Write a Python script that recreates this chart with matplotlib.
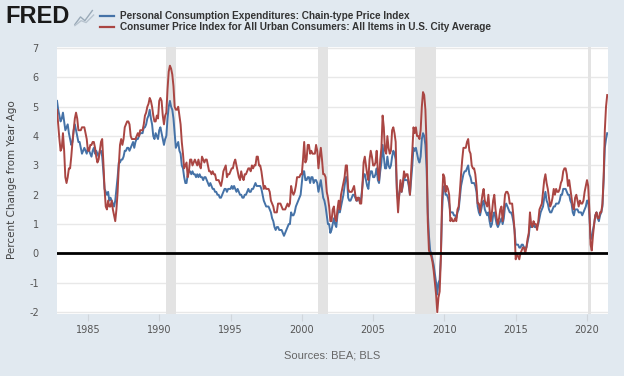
import numpy as np
import matplotlib.pyplot as plt
from matplotlib.lines import Line2D

plt.rcParams['axes.unicode_minus'] = False

# monthly, Nov 1982 .. Jun 2021, percent change from year ago
start_year, start_month = 1982, 11

cpi = [
    4.9, 4.4,
    3.9, 3.5, 3.6, 4.1, 3.5, 2.6, 2.4, 2.6, 2.9, 2.9, 3.3, 3.8,
    4.2, 4.6, 4.8, 4.6, 4.2, 4.2, 4.2, 4.3, 4.3, 4.3, 4.1, 3.9,
    3.5, 3.5, 3.7, 3.7, 3.8, 3.8, 3.6, 3.3, 3.1, 3.2, 3.5, 3.8,
    3.9, 3.1, 2.2, 1.6, 1.5, 1.8, 1.6, 1.6, 1.8, 1.5, 1.3, 1.1,
    1.5, 2.1, 3.0, 3.7, 3.9, 3.7, 3.9, 4.3, 4.4, 4.5, 4.5, 4.4,
    4.0, 3.9, 3.9, 3.9, 3.9, 4.0, 4.1, 4.0, 4.2, 4.2, 4.2, 4.4,
    4.7, 4.8, 5.0, 5.1, 5.3, 5.2, 5.0, 4.7, 4.5, 4.5, 4.7, 4.6,
    5.2, 5.3, 5.2, 4.7, 4.4, 4.7, 4.8, 5.6, 6.2, 6.4, 6.3, 6.1,
    5.7, 5.0, 4.9, 4.9, 5.0, 4.7, 4.4, 3.8, 3.4, 2.9, 3.0, 3.1,
    2.6, 2.8, 3.2, 3.2, 3.0, 3.1, 3.2, 3.1, 3.0, 3.2, 3.0, 2.9,
    3.3, 3.2, 3.1, 3.2, 3.2, 3.0, 2.8, 2.8, 2.7, 2.8, 2.7, 2.7,
    2.5, 2.5, 2.5, 2.4, 2.3, 2.5, 2.8, 2.9, 3.0, 2.6, 2.7, 2.7,
    2.8, 2.9, 2.9, 3.1, 3.2, 3.0, 2.8, 2.6, 2.5, 2.8, 2.6, 2.5,
    2.7, 2.7, 2.8, 2.9, 2.9, 2.8, 3.0, 2.9, 3.0, 3.0, 3.3, 3.3,
    3.0, 3.0, 2.8, 2.5, 2.2, 2.3, 2.2, 2.2, 2.2, 2.1, 1.8, 1.7,
    1.6, 1.4, 1.4, 1.4, 1.7, 1.7, 1.7, 1.6, 1.5, 1.5, 1.5, 1.6,
    1.7, 1.6, 1.7, 2.3, 2.1, 2.0, 2.1, 2.3, 2.6, 2.6, 2.6, 2.7,
    2.7, 3.2, 3.8, 3.1, 3.2, 3.7, 3.7, 3.4, 3.5, 3.4, 3.4, 3.4,
    3.7, 3.5, 2.9, 3.3, 3.6, 3.2, 2.7, 2.7, 2.6, 2.1, 1.9, 1.6,
    1.1, 1.1, 1.5, 1.6, 1.2, 1.1, 1.5, 1.8, 1.5, 2.0, 2.2, 2.4,
    2.6, 3.0, 3.0, 2.2, 2.1, 2.1, 2.1, 2.2, 2.3, 2.0, 1.8, 1.9,
    1.9, 1.7, 1.7, 2.3, 3.1, 3.3, 3.0, 2.7, 2.5, 3.2, 3.5, 3.3,
    3.0, 3.0, 3.1, 3.5, 2.8, 2.5, 3.2, 3.6, 4.7, 4.3, 3.5, 3.4,
    4.0, 3.6, 3.4, 3.5, 4.2, 4.3, 4.1, 3.8, 2.1, 1.4, 2.0, 2.5,
    2.1, 2.4, 2.8, 2.6, 2.7, 2.7, 2.4, 2.0, 2.8, 3.5, 4.3, 4.1,
    4.3, 4.0, 4.0, 3.9, 4.2, 5.0, 5.5, 5.4, 4.9, 3.7, 1.1, 0.1,
    0.0, -0.1, -0.3, -0.6, -1.0, -1.4, -2.0, -1.5, -1.3, -0.2, 1.8, 2.7,
    2.6, 2.1, 2.3, 2.2, 2.0, 1.1, 1.2, 1.1, 1.1, 1.2, 1.1, 1.5,
    1.6, 2.1, 2.7, 3.2, 3.6, 3.6, 3.6, 3.8, 3.9, 3.5, 3.4, 3.0,
    2.9, 2.9, 2.7, 2.3, 1.7, 1.7, 1.4, 1.7, 2.0, 2.2, 1.8, 1.7,
    1.6, 2.0, 1.5, 1.1, 1.4, 1.8, 2.0, 1.5, 1.2, 1.0, 1.2, 1.5,
    1.6, 1.1, 1.5, 2.0, 2.1, 2.1, 2.0, 1.7, 1.7, 1.7, 1.3, 0.8,
    -0.2, 0.0, -0.1, -0.2, 0.0, 0.1, 0.2, 0.2, 0.0, 0.2, 0.5, 0.7,
    1.4, 1.0, 0.9, 1.1, 1.0, 1.0, 0.8, 1.1, 1.5, 1.6, 1.7, 2.1,
    2.5, 2.7, 2.4, 2.2, 1.9, 1.6, 1.7, 1.9, 2.2, 2.0, 2.2, 2.1,
    2.1, 2.2, 2.4, 2.5, 2.8, 2.9, 2.9, 2.7, 2.3, 2.5, 2.2, 1.9,
    1.6, 1.5, 1.9, 2.0, 1.8, 1.6, 1.8, 1.7, 1.7, 1.8, 2.1, 2.3,
    2.5, 2.3, 1.5, 0.3, 0.1, 0.6, 1.0, 1.3, 1.4, 1.2, 1.2, 1.4,
    1.4, 1.7, 2.6, 4.2, 5.0, 5.4,
]

pce = [
    5.2, 4.9,
    4.7, 4.5, 4.6, 4.8, 4.5, 4.2, 4.3, 4.4, 4.1, 3.9, 3.7, 3.8,
    4.2, 4.4, 4.2, 4.0, 3.8, 3.8, 3.6, 3.4, 3.5, 3.6, 3.5, 3.4,
    3.6, 3.5, 3.4, 3.3, 3.5, 3.6, 3.4, 3.5, 3.4, 3.3, 3.5, 3.5,
    3.3, 2.8, 2.2, 2.1, 2.0, 2.1, 1.8, 1.9, 1.8, 1.7, 1.6, 1.8,
    2.2, 2.6, 3.1, 3.1, 3.2, 3.2, 3.3, 3.5, 3.5, 3.6, 3.6, 3.5,
    3.6, 3.7, 3.8, 3.6, 3.8, 3.9, 3.9, 4.0, 4.1, 4.1, 4.1, 4.3,
    4.3, 4.4, 4.6, 4.7, 4.9, 4.6, 4.4, 4.0, 3.9, 4.1, 4.0, 3.9,
    4.2, 4.3, 4.1, 3.9, 3.7, 3.9, 4.0, 4.6, 5.0, 5.2, 5.0, 4.9,
    4.6, 4.1, 3.6, 3.7, 3.8, 3.5, 3.4, 3.0, 2.9, 2.6, 2.4, 2.4,
    2.7, 2.8, 2.8, 2.7, 2.8, 2.7, 2.7, 2.6, 2.7, 2.6, 2.7, 2.6,
    2.6, 2.5, 2.6, 2.6, 2.5, 2.4, 2.3, 2.4, 2.3, 2.2, 2.2, 2.1,
    2.1, 2.0, 2.0, 1.9, 1.9, 2.0, 2.1, 2.2, 2.2, 2.1, 2.2, 2.2,
    2.2, 2.3, 2.2, 2.3, 2.2, 2.1, 2.2, 2.1, 2.0, 2.0, 1.9, 1.9,
    2.0, 2.0, 2.1, 2.2, 2.1, 2.1, 2.2, 2.2, 2.3, 2.4, 2.3, 2.3,
    2.3, 2.3, 2.2, 2.0, 1.8, 1.7, 1.6, 1.6, 1.6, 1.5, 1.4, 1.2,
    1.1, 0.9, 0.8, 0.9, 0.9, 0.8, 0.8, 0.8, 0.7, 0.6, 0.7, 0.8,
    0.9, 1.0, 1.0, 1.4, 1.3, 1.3, 1.4, 1.6, 1.7, 1.8, 1.9, 2.0,
    2.4, 2.8, 2.8, 2.5, 2.5, 2.6, 2.6, 2.4, 2.6, 2.6, 2.4, 2.5,
    2.5, 2.4, 2.1, 2.3, 2.5, 2.2, 1.9, 1.8, 1.6, 1.3, 1.0, 1.0,
    0.7, 0.8, 1.0, 1.2, 1.0, 0.9, 1.3, 1.5, 1.4, 1.6, 1.8, 2.0,
    2.3, 2.6, 2.6, 1.9, 1.8, 1.8, 1.9, 2.0, 2.0, 1.9, 1.8, 1.8,
    1.9, 1.8, 1.9, 2.3, 2.7, 2.7, 2.5, 2.3, 2.2, 2.6, 2.8, 2.8,
    2.6, 2.6, 2.7, 2.9, 2.5, 2.4, 2.8, 3.1, 3.7, 3.3, 2.9, 2.9,
    3.3, 3.0, 2.9, 3.0, 3.3, 3.5, 3.4, 3.2, 2.2, 1.8, 2.0, 2.3,
    2.1, 2.3, 2.6, 2.5, 2.5, 2.5, 2.3, 2.0, 2.5, 3.0, 3.6, 3.5,
    3.6, 3.4, 3.2, 3.1, 3.3, 3.9, 4.1, 4.0, 3.7, 2.9, 1.4, 0.6,
    0.1, 0.0, -0.2, -0.4, -0.7, -1.0, -1.4, -1.0, -0.9, -0.1, 1.4, 2.2,
    2.3, 2.0, 2.0, 1.9, 1.7, 1.4, 1.4, 1.4, 1.3, 1.3, 1.2, 1.4,
    1.5, 1.9, 2.3, 2.5, 2.7, 2.8, 2.8, 2.9, 3.0, 2.7, 2.6, 2.4,
    2.4, 2.4, 2.3, 2.1, 1.6, 1.4, 1.3, 1.5, 1.7, 1.8, 1.5, 1.4,
    1.3, 1.4, 1.1, 0.9, 1.0, 1.3, 1.4, 1.2, 1.0, 0.9, 1.0, 1.1,
    1.2, 1.0, 1.2, 1.6, 1.7, 1.6, 1.5, 1.4, 1.4, 1.3, 1.1, 0.8,
    0.3, 0.3, 0.3, 0.2, 0.2, 0.3, 0.3, 0.2, 0.2, 0.2, 0.4, 0.6,
    1.0, 0.9, 0.9, 1.0, 0.9, 0.9, 0.9, 1.0, 1.2, 1.4, 1.5, 1.6,
    1.9, 2.1, 1.8, 1.7, 1.5, 1.4, 1.4, 1.5, 1.6, 1.6, 1.7, 1.7,
    1.7, 1.8, 2.0, 2.0, 2.2, 2.2, 2.2, 2.1, 2.0, 2.0, 1.8, 1.7,
    1.4, 1.3, 1.5, 1.5, 1.5, 1.4, 1.4, 1.4, 1.3, 1.4, 1.5, 1.6,
    1.8, 1.8, 1.3, 0.5, 0.5, 0.8, 1.0, 1.3, 1.4, 1.2, 1.1, 1.3,
    1.4, 1.6, 2.5, 3.6, 3.9, 4.1,
]

recessions = [(1990.5, 1991.17), (2001.17, 2001.83), (2007.92, 2009.42), (2020.08, 2020.25)]
year_ticks = [1985, 1990, 1995, 2000, 2005, 2010, 2015, 2020]

pce_label = "Personal Consumption Expenditures: Chain-type Price Index"
cpi_label = "Consumer Price Index for All Urban Consumers: All Items in U.S. City Average"

dates = start_year + (start_month - 1 + np.arange(len(cpi))) / 12.0

bg = "#e1e9f0"
fig = plt.figure(figsize=(6.24, 3.76), dpi=100, facecolor=bg)
ax = fig.add_axes([0.0913, 0.166, 0.883, 0.71])
ax.set_facecolor("white")

for a, b in recessions:
    ax.axvspan(a, b, color="#e3e3e3", lw=0, zorder=1)

for v in range(-2, 8):
    ax.axhline(v, color="#e8e8e8", lw=1, zorder=0)
ax.axhline(0, color="black", lw=2, zorder=4)

ax.plot(dates, pce, color="#4572a7", lw=1.4, zorder=3)
ax.plot(dates, cpi, color="#aa4643", lw=1.4, zorder=3)

ax.set_xlim(1982.83, 2021.47)
ax.set_ylim(-2.05, 7.05)
ax.set_yticks(range(-2, 8))
ax.set_xticks(year_ticks)
ax.tick_params(axis="y", length=0, pad=13, labelsize=7, labelcolor="#555555")
ax.tick_params(axis="x", length=5, color="#d0d6dc", pad=3, labelsize=7, labelcolor="#555555")
for s in ax.spines.values():
    s.set_visible(False)
ax.set_ylabel("Percent Change from Year Ago", fontsize=7.5, color="#444444", labelpad=9)

# header: FRED mark and legend
fig.text(0.008, 0.955, "FRED", fontsize=17, fontweight="bold", color="#1a1a1a",
         va="center", ha="left", family="Liberation Sans")
fig.lines.append(Line2D([0.120, 0.129, 0.136, 0.148], [0.935, 0.955, 0.945, 0.972],
                        transform=fig.transFigure, color="#9aaab8", lw=1))
fig.lines.append(Line2D([0.120, 0.130, 0.138, 0.150], [0.932, 0.945, 0.94, 0.96],
                        transform=fig.transFigure, color="#b8c4cf", lw=1))
fig.lines.append(Line2D([0.160, 0.182], [0.957, 0.957], transform=fig.transFigure,
                        color="#4572a7", lw=1.6))
fig.lines.append(Line2D([0.160, 0.182], [0.927, 0.927], transform=fig.transFigure,
                        color="#aa4643", lw=1.6))
fig.text(0.192, 0.957, pce_label, fontsize=7.2, color="#333333", va="center",
         fontweight="semibold", family="Liberation Sans")
fig.text(0.192, 0.927, cpi_label, fontsize=7.2, color="#333333", va="center",
         fontweight="semibold", family="Liberation Sans")

fig.text(0.532, 0.055, "Sources: BEA; BLS", fontsize=8, color="#666666",
         ha="center", va="center", family="Liberation Sans")

fig.savefig("out.png", dpi=100, facecolor=bg)
